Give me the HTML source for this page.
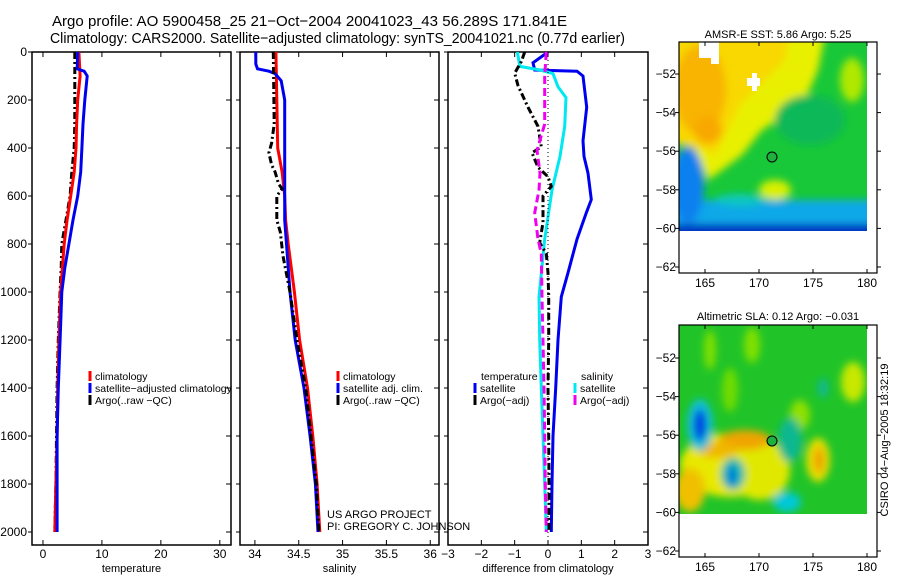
<!DOCTYPE html>
<html><head><meta charset="utf-8"><style>
body{margin:0;background:#fff;}
svg{display:block;font-family:"Liberation Sans",sans-serif;}
</style></head><body>
<svg id="fig" width="900" height="580" viewBox="0 0 900 580">
<defs>
<clipPath id="c1"><rect x="32" y="52" width="199" height="493"/></clipPath>
<clipPath id="c2"><rect x="240" y="52" width="199" height="493"/></clipPath>
<clipPath id="c3"><rect x="448" y="52" width="200" height="493"/></clipPath>
<clipPath id="m1"><rect x="679" y="42" width="188" height="189"/></clipPath>
<clipPath id="m2"><rect x="679" y="325" width="188" height="189"/></clipPath>
<filter id="bl" x="-20%" y="-20%" width="140%" height="140%"><feGaussianBlur stdDeviation="4"/></filter>
</defs>
<text x="52" y="26" font-size="15" textLength="515" lengthAdjust="spacingAndGlyphs">Argo profile: AO 5900458_25 21−Oct−2004 20041023_43 56.289S 171.841E</text>
<text x="50" y="43" font-size="15" textLength="575" lengthAdjust="spacingAndGlyphs">Climatology: CARS2000. Satellite−adjusted climatology: synTS_20041021.nc (0.77d earlier)</text>

<g id="p1"></g>
<g id="p2"></g>
<g id="p3"></g>

<g>
<text x="778" y="38" font-size="11" text-anchor="middle">AMSR-E SST: 5.86 Argo: 5.25</text>
<g clip-path="url(#m1)">
<rect x="679" y="42" width="188" height="189" fill="#18c838"/>
<g filter="url(#bl)">
<ellipse cx="852" cy="80" rx="12" ry="22" fill="#b0e800"/>
<polygon points="660,30 826,30 818,70 805,100 790,112 762,130 742,155 722,170 708,180 700,160 690,140 660,130" fill="#e8f000"/>
<polygon points="660,30 790,30 785,60 765,80 740,105 725,135 715,155 705,150 660,140" fill="#f8d800"/>
<ellipse cx="700" cy="90" rx="26" ry="45" fill="#f8b400"/>
<ellipse cx="708" cy="130" rx="14" ry="14" fill="#f8a800"/>
<ellipse cx="810" cy="120" rx="35" ry="25" fill="#10b858"/>
<rect x="660" y="200" width="230" height="50" fill="#10a8e8"/>
<ellipse cx="688" cy="185" rx="16" ry="38" fill="#0880f0"/>
<ellipse cx="775" cy="190" rx="16" ry="10" fill="#d8f000"/>
<ellipse cx="740" cy="200" rx="25" ry="6" fill="#10c8c0"/>
<rect x="660" y="224" width="230" height="20" fill="#0030c0"/>
</g>
<rect x="699" y="42" width="20" height="16" fill="#fff"/><rect x="711" y="58" width="8" height="6" fill="#fff"/>
<rect x="747" y="78" width="13" height="8" fill="#fff"/><rect x="752" y="73" width="5" height="18" fill="#fff"/>
<circle cx="772" cy="157" r="5" fill="#20b040" stroke="#000" stroke-width="1"/>
</g>
<g id="m1ax"></g>
</g>

<g>
<text x="778" y="320" font-size="11" text-anchor="middle">Altimetric SLA: 0.12 Argo: −0.031</text>
<g clip-path="url(#m2)">
<rect x="679" y="325" width="188" height="189" fill="#20c428"/>
<g filter="url(#bl)">
<ellipse cx="710" cy="350" rx="6" ry="20" fill="#80e000"/>
<ellipse cx="752" cy="345" rx="8" ry="18" fill="#80e000"/>
<ellipse cx="730" cy="390" rx="8" ry="22" fill="#70dc00"/>
<ellipse cx="853" cy="382" rx="12" ry="20" fill="#c8e800"/>
<ellipse cx="800" cy="415" rx="10" ry="15" fill="#90e000"/>
<ellipse cx="823" cy="388" rx="5" ry="10" fill="#10b898"/>
<ellipse cx="730" cy="465" rx="50" ry="32" fill="#e8e800"/>
<ellipse cx="760" cy="470" rx="30" ry="30" fill="#e0e800"/>
<ellipse cx="690" cy="490" rx="15" ry="22" fill="#f0c000"/>
<ellipse cx="745" cy="440" rx="26" ry="10" fill="#f0a400"/>
<ellipse cx="718" cy="450" rx="20" ry="8" fill="#f0b800"/>
<ellipse cx="700" cy="425" rx="13" ry="26" fill="#10c0d8"/>
<ellipse cx="700" cy="425" rx="6" ry="16" fill="#0030e0"/>
<ellipse cx="733" cy="474" rx="12" ry="16" fill="#10b8b0"/>
<ellipse cx="732" cy="476" rx="4" ry="10" fill="#0070e0"/>
<ellipse cx="787" cy="502" rx="14" ry="10" fill="#00c8d8"/>
<ellipse cx="818" cy="460" rx="12" ry="22" fill="#e8e000"/>
<ellipse cx="819" cy="460" rx="5" ry="13" fill="#f09c00"/>
<ellipse cx="790" cy="440" rx="12" ry="22" fill="#10b890"/>
</g>
<circle cx="772" cy="441" r="5" fill="#20b040" stroke="#000" stroke-width="1"/>
</g>
<g id="m2ax"></g>
</g>
<text transform="translate(888,440) rotate(-90)" font-size="11" text-anchor="middle">CSIRO 04−Aug−2005 18:32:19</text>
</svg>
<script>
// depth axis
var depthTicks = [0,200,400,600,800,1000,1200,1400,1600,1800,2000];
// temperature panel data
var tempTicks = [0,10,20,30];
var tClimDepth = [0,100,200,300,400,500,600,700,800,900,1000,1200,1400,1600,1800,2000];
var tClimVal   = [6.1,6.3,5.9,5.7,5.6,5.3,4.7,4.1,3.6,3.3,3.0,2.7,2.5,2.4,2.2,2.0];
var tSatDepth  = [0,70,80,100,200,300,400,500,600,700,800,900,1000,1200,1400,1600,1800,2000];
var tSatVal    = [5.9,5.8,7.0,7.5,7.1,6.8,6.6,6.4,5.9,5.1,4.4,3.7,3.2,2.9,2.6,2.4,2.4,2.4];
var tArgoDepth = [0,100,200,300,400,500,600,700,800,900,1000,1200,1400,1600,1800,2000];
var tArgoVal   = [5.4,5.4,5.4,5.4,5.3,4.9,4.6,3.9,3.2,3.1,2.9,2.6,2.4,2.3,2.2,2.0];
// salinity panel data
var salTicks = [34,34.5,35,35.5,36];
var sClimDepth = [0,200,400,500,600,700,800,1000,1200,1400,1600,1800,2000];
var sClimVal   = [34.24,34.25,34.26,34.31,34.34,34.35,34.38,34.45,34.51,34.60,34.66,34.71,34.74];
var sSatDepth  = [0,50,70,80,90,120,200,700,800,1000,1200,1400,1600,1800,2000];
var sSatVal    = [34.01,34.01,34.03,34.16,34.23,34.30,34.34,34.34,34.36,34.40,34.46,34.56,34.63,34.69,34.72];
var sArgoDepth = [0,300,380,420,470,500,550,570,600,700,750,850,1000,1200,1400,1600,1800,2000];
var sArgoVal   = [34.21,34.22,34.19,34.16,34.19,34.23,34.27,34.31,34.25,34.25,34.29,34.32,34.40,34.48,34.58,34.64,34.70,34.73];
// difference panel data
var diffTicks = [-3,-2,-1,0,1,2,3];
var dTSatDepth = [0,45,75,80,100,230,370,435,505,615,670,780,920,1020,1200,1400,1600,1800,2000];
var dTSatVal   = [0.0,-0.45,-0.4,0.87,1.05,1.16,1.05,1.08,1.2,1.3,1.15,0.87,0.6,0.4,0.3,0.23,0.15,0.12,0.1];
var dSSatDepth = [0,60,75,90,145,190,310,435,575,780,1020,1200,1400,1600,1800,2000];
var dSSatVal   = [-0.92,-0.84,-0.24,0.15,0.3,0.54,0.5,0.36,0.12,-0.1,-0.27,-0.25,-0.2,-0.15,-0.1,-0.05];
var dTArgoDepth = [0,40,88,140,230,310,395,420,480,520,560,600,710,795,840,920,1020,1200,1400,1600,1800,2000];
var dTArgoVal   = [-0.7,-0.8,-1.0,-0.9,-0.6,-0.3,-0.2,-0.48,-0.3,0.0,0.1,-0.15,-0.15,-0.25,-0.05,0.0,0.02,0.02,0.0,0.02,0.03,0.03];
var dSArgoDepth = [0,100,300,410,505,575,670,780,840,1020,1200,1400,1600,1800,2000];
var dSArgoVal   = [-0.05,-0.1,-0.1,-0.33,-0.24,-0.27,-0.4,-0.3,-0.2,-0.18,-0.15,-0.12,-0.1,-0.08,-0.05];
// map ticks
var lonTicks = [165,170,175,180];
var latTicks = [-52,-54,-56,-58,-60,-62];

var NS='http://www.w3.org/2000/svg';
function mk(tag, attrs, parent){var e=document.createElementNS(NS,tag);for(var k in attrs)e.setAttribute(k,attrs[k]);parent.appendChild(e);return e;}
function yD(d){return 52+d*0.24;}

function panel(g, x0, x1, vmin, vmax, ticks, tickFmt, label, clip){
  var xs=function(v){return x0+(v-vmin)/(vmax-vmin)*(x1-x0);};
  var box=mk('rect',{x:x0,y:52,width:x1-x0,height:493,fill:'none',stroke:'#000','stroke-width':1.5},g);
  
  
  ticks.forEach(function(t){
    var x=xs(t);
    mk('line',{x1:x,x2:x,y1:52,y2:57,stroke:'#000'},g);
    mk('line',{x1:x,x2:x,y1:540,y2:545,stroke:'#000'},g);
    var tl=mk('text',{x:x,y:558,'font-size':12,'text-anchor':'middle'},g);
    tl.textContent=tickFmt(t);
    
    
  });
  depthTicks.forEach(function(d){
    var y=yD(d);
    mk('line',{x1:x0-4,x2:x0,y1:y,y2:y,stroke:'#000'},g);
    mk('line',{x1:x1-5,x2:x1,y1:y,y2:y,stroke:'#000'},g);
  });
  var al=mk('text',{x:(x0+x1)/2,y:572,'font-size':11,'text-anchor':'middle'},g);
  al.textContent=label;
  
  
  var lg=mk('g',{'clip-path':'url(#'+clip+')'},g);
  return {xs:xs,lg:lg};
}
function line(P, depths, vals, color, dash, name){
  var pts=depths.map(function(d,i){return P.xs(vals[i]).toFixed(1)+','+yD(d).toFixed(1);}).join(' ');
  var a={points:pts,fill:'none',stroke:color,'stroke-width':3};
  if(dash)a['stroke-dasharray']=dash;
  var e=mk('polyline',a,P.lg);
  
  
}
function legend(g, x, y, color, txt){
  mk('line',{x1:x,x2:x,y1:y-9,y2:y+1,stroke:color,'stroke-width':3},g);
  var t=mk('text',{x:x+5,y:y,'font-size':10.5},g);
  t.textContent=txt;
  
  
}
var g1=document.getElementById('p1'),g2=document.getElementById('p2'),g3=document.getElementById('p3');
var P1=panel(g1,32,231,-1.86,31.9,tempTicks,String,'temperature','c1');
depthTicks.forEach(function(d){var t=mk('text',{x:27,y:yD(d)+4,'font-size':12,'text-anchor':'end'},g1);t.textContent=d;
  
  });
line(P1,tArgoDepth,tArgoVal,'#000','7,3,2,3','temp-argo-line');
line(P1,tClimDepth,tClimVal,'#f00',null,'temp-climatology-line');
line(P1,tSatDepth,tSatVal,'#0000f0',null,'temp-satellite-line');
legend(g1,90,380,'#f00','climatology');legend(g1,90,392,'#0000f0','satellite−adjusted climatology');legend(g1,90,404,'#000','Argo(..raw −QC)');

var P2=panel(g2,240,439,33.83,36.1,salTicks,String,'salinity','c2');
line(P2,sClimDepth,sClimVal,'#f00',null,'sal-climatology-line');
line(P2,sSatDepth,sSatVal,'#0000f0',null,'sal-satellite-line');
line(P2,sArgoDepth,sArgoVal,'#000','7,3,2,3','sal-argo-line');
legend(g2,338,380,'#f00','climatology');legend(g2,338,392,'#0000f0','satellite adj. clim.');legend(g2,338,404,'#000','Argo(..raw −QC)');
var c1=mk('text',{x:327,y:518,'font-size':11},g2);c1.textContent='US ARGO PROJECT';


var c2=mk('text',{x:327,y:530,'font-size':11},g2);c2.textContent='PI: GREGORY C. JOHNSON';



var P3=panel(g3,448,648,-3,3,diffTicks,function(t){return t<0?'−'+(-t):String(t);},'difference from climatology','c3');
var zl=mk('line',{x1:P3.xs(0),x2:P3.xs(0),y1:52,y2:545,stroke:'#000','stroke-dasharray':'1,3'},g3);


line(P3,dTSatDepth,dTSatVal,'#0000f0',null,'diff-temp-satellite-line');
line(P3,dSSatDepth,dSSatVal,'#00e8f0',null,'diff-sal-satellite-line');
line(P3,dTArgoDepth,dTArgoVal,'#000','7,3,2,3','diff-temp-argo-line');
line(P3,dSArgoDepth,dSArgoVal,'#f000f0','8,4','diff-sal-argo-line');
var lt=mk('text',{x:481,y:380,'font-size':10.5},g3);lt.textContent='temperature';


var ls=mk('text',{x:581,y:380,'font-size':10.5},g3);ls.textContent='salinity';


legend(g3,475,392,'#0000f0','satellite');legend(g3,475,404,'#000','Argo(−adj)');
legend(g3,575,392,'#00e8f0','satellite');legend(g3,575,404,'#f000f0','Argo(−adj)');

function mapAxes(g, top, bottom, lat52){
  mk('rect',{x:679,y:top,width:198,height:bottom-top,fill:'none',stroke:'#000','stroke-width':1.2},g);
  lonTicks.forEach(function(l){var x=705+(l-165)*10.8;
    mk('line',{x1:x,x2:x,y1:top,y2:top+4,stroke:'#000'},g);
    mk('line',{x1:x,x2:x,y1:bottom-4,y2:bottom,stroke:'#000'},g);
    var t=mk('text',{x:x,y:bottom+14,'font-size':12,'text-anchor':'middle'},g);t.textContent=l;
    
    });
  latTicks.forEach(function(l){var y=lat52+(-52-l)*19.3;
    mk('line',{x1:675,x2:679,y1:y,y2:y,stroke:'#000'},g);
    mk('line',{x1:877,x2:881,y1:y,y2:y,stroke:'#000'},g);
    var t=mk('text',{x:676,y:y+4,'font-size':12,'text-anchor':'end'},g);t.textContent='−'+(-l);
    
    });
}
mapAxes(document.getElementById('m1ax'),42,273,74);
mapAxes(document.getElementById('m2ax'),325,557,358);
</script>
</body></html>
